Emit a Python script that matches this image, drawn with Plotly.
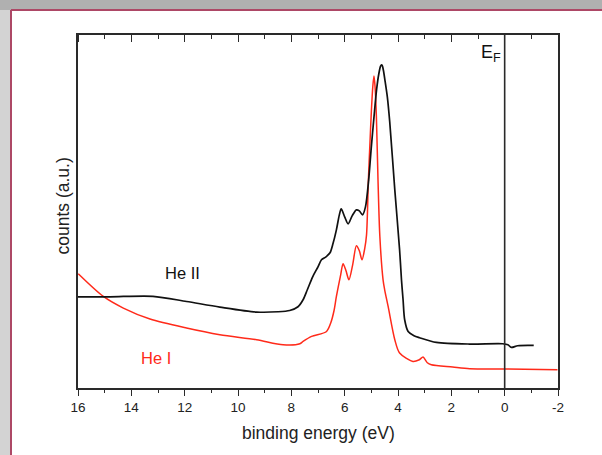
import plotly.graph_objects as go

# He II spectrum (black)
he2_energy = [16.0, 14.8, 13.19, 11.93, 10.68, 9.30, 8.5, 8.06, 7.75, 7.56, 7.4, 7.2, 7.0, 6.87, 6.7,
              6.55, 6.45, 6.31, 6.2, 6.13, 6.0, 5.87, 5.72, 5.56, 5.45, 5.33, 5.22, 5.10, 5.0, 4.90,
              4.80, 4.72, 4.65, 4.60, 4.55, 4.48, 4.40, 4.31, 4.12, 3.94, 3.87,
              3.81, 3.75, 3.62, 3.40, 3.19, 2.56, 1.31, 0.08, -0.12, -0.25, -0.49, -1.09]
he2_counts = [90, 90, 90.5, 85.3, 79.7, 74.7, 75, 76.3, 80, 87, 97, 110, 120, 127, 130,
              134, 142, 157, 172, 178, 170, 163, 171, 177, 176, 172, 180, 207, 240, 270,
              298, 313, 321, 322, 317, 305, 290, 265, 197, 137, 107,
              87, 67, 55.3, 51, 49, 44.3, 42.7, 43, 42, 39.3, 41, 41.3]

# He I spectrum (red)
he1_energy = [15.99, 15.05, 14.30, 13.30, 11.93, 10.68, 9.30, 8.31, 7.68, 7.56, 7.24, 6.68, 6.52, 6.40,
              6.31, 6.15, 6.06, 5.95, 5.84, 5.70, 5.56, 5.45, 5.35, 5.25, 5.18, 5.11, 5.05, 5.0,
              4.94, 4.90, 4.86, 4.81, 4.75, 4.68, 4.56, 4.50, 4.37,
              4.12, 3.94, 3.44, 3.20, 3.06, 2.90, 2.75, 1.95, 1.31, 0.08, -1.98]
he1_counts = [113, 90.3, 78.7, 67.7, 58.7, 52, 47, 42, 43, 45.3, 50.3, 55.3, 64, 76,
              90.3, 112, 123, 116, 107, 122, 141, 136, 127, 138, 152, 207, 245, 275,
              302, 311, 300, 270, 207, 150, 107, 97, 80.3,
              47, 33.7, 25.3, 27, 29.7, 24, 22, 19.7, 18, 17.7, 17]

x_ticks = [16, 14, 12, 10, 8, 6, 4, 2, 0, -2]
x_minor_ticks = [v - 1 for v in x_ticks[:-1]]
x_range = [16, -2]
y_range = [-1.3, 352]

FONT = "Liberation Sans, Arial, Helvetica, sans-serif"
AX = "#2a2a2a"
BORDER = "#ad4866"
PLOT_H = 353  # plot-area height in px

fig = go.Figure()
fig.add_trace(go.Scatter(x=he1_energy, y=he1_counts, mode="lines",
                         line=dict(color="#ff2a1a", width=1.5, shape="spline", smoothing=0.8),
                         showlegend=False, hoverinfo="skip"))
fig.add_trace(go.Scatter(x=he2_energy, y=he2_counts, mode="lines",
                         line=dict(color="#111111", width=1.7, shape="spline", smoothing=0.8),
                         showlegend=False, hoverinfo="skip"))
# the same curve carried invisibly by the tick-only overlay axes
for ax in ["x2", "x3", "x4"]:
    fig.add_trace(go.Scatter(x=he2_energy, y=he2_counts, xaxis=ax, yaxis="y", mode="lines",
                             line=dict(color="rgba(0,0,0,0)"), showlegend=False, hoverinfo="skip"))

# grey backdrop strips outside the white panel (top and left), plus the panel border
PX0 = (11 - 78) / 480
PY1 = (388 - 10) / PLOT_H
fig.add_shape(type="rect", xref="paper", yref="paper", x0=-0.3, x1=1.3, y0=PY1, y1=1.3,
              fillcolor="#b0b0b0", line=dict(width=0))
fig.add_shape(type="rect", xref="paper", yref="paper", x0=-0.3, x1=PX0, y0=-0.4, y1=PY1,
              fillcolor="#d3d3d3", line=dict(width=0))
fig.add_shape(type="line", xref="paper", yref="paper", x0=PX0, x1=1.3, y0=PY1, y1=PY1,
              line=dict(color=BORDER, width=2))
fig.add_shape(type="line", xref="paper", yref="paper", x0=PX0, x1=PX0, y0=-0.4, y1=PY1,
              line=dict(color=BORDER, width=2))

# Fermi level line
fig.add_shape(type="line", xref="x", yref="paper", x0=0, x1=0, y0=0, y1=1,
              line=dict(color=AX, width=1.6))

fig.add_annotation(x=0.077, y=333, xref="x", yref="y", text="E<sub>F</sub>", showarrow=False,
                   xanchor="right", yanchor="middle", font=dict(size=18, color="#111111"))
fig.add_annotation(x=12.08, y=113.5, xref="x", yref="y", text="He II", showarrow=False,
                   font=dict(size=16.5, color="#111111"))
fig.add_annotation(x=13.09, y=29, xref="x", yref="y", text="He I", showarrow=False,
                   font=dict(size=16.5, color="#ff2a1a"))
fig.add_annotation(x=(318 - 78) / 480, y=-0.1275, xref="paper", yref="paper",
                   text="binding energy (eV)", showarrow=False, xanchor="center", yanchor="middle",
                   font=dict(size=17.5, color="#222222"))
fig.add_annotation(x=(62 - 78) / 480, y=(388 - 206.5) / PLOT_H, xref="paper", yref="paper",
                   text="counts (a.u.)", textangle=-90, showarrow=False,
                   xanchor="center", yanchor="middle", font=dict(size=17.5, color="#222222"))

top_tick_common = dict(range=x_range, overlaying="x", anchor="free", side="top",
                       showticklabels=False, ticks="outside", tickwidth=1.3, tickcolor=AX,
                       showline=False, showgrid=False, zeroline=False)

fig.update_layout(
    width=602, height=455,
    margin=dict(l=78, r=44, t=35, b=67),
    paper_bgcolor="white",
    plot_bgcolor="white",
    hovermode=False,
    font=dict(family=FONT, color="#222222"),
    xaxis=dict(range=x_range, showticklabels=False, ticks="",
               showline=True, linecolor=AX, linewidth=1.6, mirror=True,
               showgrid=False, zeroline=False),
    # bottom axis: outward ticks + labels
    xaxis2=dict(range=x_range, overlaying="x", side="bottom", anchor="y",
                tickvals=x_ticks, ticktext=[str(v) for v in x_ticks],
                ticks="outside", ticklen=7, tickwidth=1.3, tickcolor=AX,
                minor=dict(dtick=1, tick0=0, ticks="outside", ticklen=4, tickwidth=1.2, tickcolor=AX),
                showline=False, showgrid=False, zeroline=False,
                tickfont=dict(size=13.5, color="#222222")),
    # top edge: ticks hanging down into the frame (major and minor)
    xaxis3=dict(position=1 - 7 / PLOT_H, tickvals=x_ticks, ticklen=7, **top_tick_common),
    xaxis4=dict(position=1 - 4 / PLOT_H, tickvals=x_minor_ticks, ticklen=4, **top_tick_common),
    yaxis=dict(range=y_range, showticklabels=False, ticks="", showgrid=False, zeroline=False,
               showline=True, linecolor=AX, linewidth=1.6, mirror=True),
)

fig.write_html("out.html", config={"displayModeBar": False},
               post_script="document.body.style.margin='0';document.body.style.background='#d3d3d3';")
